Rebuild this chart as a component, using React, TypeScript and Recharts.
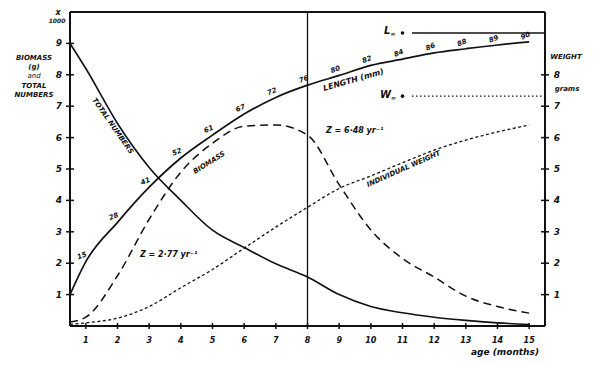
import { Line, LineChart, XAxis, YAxis, ReferenceLine, ReferenceDot, LabelList } from "recharts";

const months = [0.5, 1, 2, 3, 4, 5, 6, 7, 8, 9, 10, 11, 12, 13, 14, 15];
const totalNumbers = [9.0, 8.2, 6.45, 5.05, 4.0, 3.05, 2.5, 1.98, 1.56, 1.0, 0.62, 0.42, 0.28, 0.18, 0.1, 0.05];
const biomass = [0.13, 0.28, 1.6, 3.4, 4.9, 5.82, 6.36, 6.4, 6.08, 4.5, 3.06, 2.15, 1.56, 0.95, 0.62, 0.41];
const individualWeight = [0.05, 0.1, 0.25, 0.62, 1.22, 1.8, 2.48, 3.15, 3.78, 4.38, 4.78, 5.2, 5.6, 5.92, 6.18, 6.4];
const lengthCurve = [1.0, 2.05, 3.3, 4.42, 5.35, 6.08, 6.75, 7.28, 7.67, 7.98, 8.3, 8.5, 8.7, 8.83, 8.95, 9.05];
const lengthMm = [null, "15", "28", "41", "52", "61", "67", "72", "76", "80", "82", "84", "86", "88", "89", "90"];

const leftTicks = [1, 2, 3, 4, 5, 6, 7, 8, 9];
const rightTicks = [1, 2, 3, 4, 5, 6, 7, 8];
const monthTicks = [1, 2, 3, 4, 5, 6, 7, 8, 9, 10, 11, 12, 13, 14, 15];

const lInf = 9.33;
const wInf = 7.32;
const markerMonth = 8;

const data = months.map((m, i) => ({
  month: m,
  total: totalNumbers[i],
  biomass: biomass[i],
  weight: individualWeight[i],
  length: lengthCurve[i],
  mm: lengthMm[i],
}));

const ink = "#111";
const hand = { fontFamily: "DejaVu Sans", fontWeight: 700, fontStyle: "italic" as const, fill: ink };

function LeftTick({ x, y, payload }: any) {
  return (
    <g>
      <line x1={x - 4} x2={x + 4} y1={y} y2={y} stroke={ink} strokeWidth={1.5} />
      <text x={x - 11} y={y + 3} textAnchor="middle" fontSize={9} {...hand}>{payload.value}</text>
    </g>
  );
}

function RightTick({ x, y, payload }: any) {
  return (
    <g>
      <line x1={x - 4} x2={x + 4} y1={y} y2={y} stroke={ink} strokeWidth={1.5} />
      <text x={x + 12} y={y + 3} textAnchor="middle" fontSize={9} {...hand}>{payload.value}</text>
    </g>
  );
}

function MonthTick({ x, y, payload }: any) {
  return (
    <g>
      <line x1={x} x2={x} y1={y - 3} y2={y + 3} stroke={ink} strokeWidth={1.5} />
      <text x={x} y={y + 17} textAnchor="middle" fontSize={8} {...hand}>{payload.value}</text>
    </g>
  );
}

function MmLabel({ x, y, value }: any) {
  if (value == null) return null;
  return (
    <text x={x - 3} y={y - 4} textAnchor="middle" fontSize={7} transform={`rotate(-22 ${x - 3} ${y - 4})`} {...hand}>
      {value}
    </text>
  );
}

export default function App() {
  return (
    <div style={{ position: "absolute", left: 0, top: 0, width: 600, height: 365, background: "#fff" }}>
      <LineChart width={600} height={365} data={data} margin={{ top: 12, right: 25, bottom: 9, left: 40 }}>
        <XAxis
          dataKey="month"
          type="number"
          domain={[0.5, 15.5]}
          ticks={monthTicks}
          height={30}
          tickSize={0}
          tickMargin={0}
          tickLine={false}
          tick={<MonthTick />}
          axisLine={{ stroke: ink, strokeWidth: 2 }}
          allowDataOverflow
        />
        <YAxis
          yAxisId="left"
          domain={[0, 10]}
          ticks={leftTicks}
          width={30}
          tickSize={0}
          tickMargin={0}
          tickLine={false}
          tick={<LeftTick />}
          axisLine={{ stroke: ink, strokeWidth: 2 }}
          allowDataOverflow
        />
        <YAxis
          yAxisId="right"
          orientation="right"
          domain={[0, 10]}
          ticks={rightTicks}
          width={30}
          tickSize={0}
          tickMargin={0}
          tickLine={false}
          tick={<RightTick />}
          axisLine={{ stroke: ink, strokeWidth: 2 }}
          allowDataOverflow
        />
        <ReferenceLine yAxisId="left" y={10} stroke={ink} strokeWidth={2} />
        <ReferenceLine yAxisId="left" x={markerMonth} stroke={ink} strokeWidth={1.3} />
        <ReferenceLine
          yAxisId="left"
          segment={[{ x: 11.3, y: lInf }, { x: 15.5, y: lInf }]}
          stroke={ink}
          strokeWidth={1.5}
        />
        <ReferenceLine
          yAxisId="right"
          segment={[{ x: 11.3, y: wInf }, { x: 15.5, y: wInf }]}
          stroke={ink}
          strokeWidth={1.3}
          strokeDasharray="1.5 2.5"
        />
        <ReferenceDot yAxisId="left" x={11} y={lInf} r={1.8} fill={ink} stroke="none" />
        <ReferenceDot yAxisId="right" x={11} y={wInf} r={1.8} fill={ink} stroke="none" />
        <Line yAxisId="left" type="monotone" dataKey="total" stroke={ink} strokeWidth={1.6} dot={false} isAnimationActive={false} />
        <Line yAxisId="left" type="monotone" dataKey="biomass" stroke={ink} strokeWidth={1.5} strokeDasharray="8 5" dot={false} isAnimationActive={false} />
        <Line yAxisId="right" type="monotone" dataKey="weight" stroke={ink} strokeWidth={1.3} strokeDasharray="3 2.5" dot={false} isAnimationActive={false} />
        <Line yAxisId="left" type="monotone" dataKey="length" stroke={ink} strokeWidth={1.7} dot={false} isAnimationActive={false}>
          <LabelList dataKey="mm" content={<MmLabel />} />
        </Line>
      </LineChart>
      <svg width={600} height={365} style={{ position: "absolute", left: 0, top: 0, pointerEvents: "none" }}>
        <g fontSize={7} {...hand}>
          <text x={58} y={15} textAnchor="middle" fontSize={8}>x</text>
          <text x={57} y={23} textAnchor="middle" fontSize={6}>1000</text>
          <text x={34} y={60} textAnchor="middle">BIOMASS</text>
          <text x={34} y={69} textAnchor="middle">(g)</text>
          <text x={34} y={78} textAnchor="middle" fontWeight={400}>and</text>
          <text x={34} y={88} textAnchor="middle">TOTAL</text>
          <text x={34} y={97} textAnchor="middle">NUMBERS</text>
          <text x={566} y={59} textAnchor="middle">WEIGHT</text>
          <text x={567} y={91} textAnchor="middle">grams</text>
          <text x={505} y={355} textAnchor="middle" fontSize={9}>age (months)</text>
          <text x={92} y={100} transform="rotate(55 92 100)">TOTAL NUMBERS</text>
          <text x={195} y={174} transform="rotate(-32 195 174)">BIOMASS</text>
          <text x={368} y={187} transform="rotate(-24 368 187)">INDIVIDUAL WEIGHT</text>
          <text x={324} y={91} transform="rotate(-16 324 91)" fontSize={8}>LENGTH (mm)</text>
          <text x={326} y={133} fontSize={8}>Z = 6·48 yr⁻¹</text>
          <text x={140} y={257} fontSize={8}>Z = 2·77 yr⁻¹</text>
          <text x={384} y={34} fontSize={10}>L<tspan fontSize={6} dy={2}>∞</tspan></text>
          <text x={380} y={98} fontSize={10}>W<tspan fontSize={6} dy={2}>∞</tspan></text>
        </g>
      </svg>
    </div>
  );
}
